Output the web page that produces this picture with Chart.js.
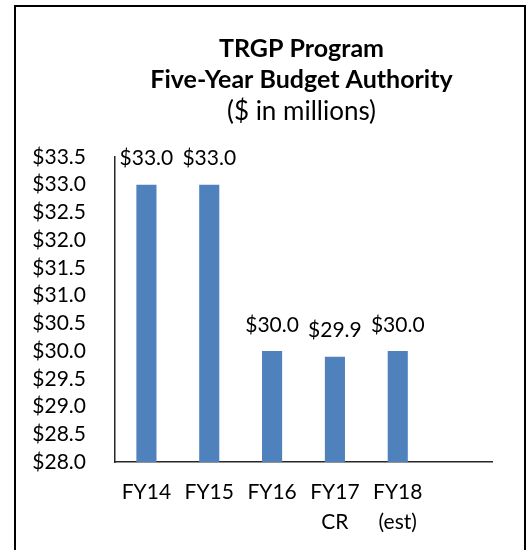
<!DOCTYPE html>
<html>
<head>
<meta charset="utf-8">
<script src="https://cdn.jsdelivr.net/npm/chart.js@4"></script>
<style>
  html, body { margin: 0; padding: 0; background: #fff; overflow: hidden; }
  #frame { position: absolute; left: 14px; top: 5px; width: 508px; height: 620px; border: 2px solid #000; }
  #wrap { position: absolute; left: 0; top: 0; width: 526px; height: 550px; }
</style>
</head>
<body>
<div id="frame"></div>
<div id="wrap"><canvas id="chart"></canvas></div>
<script>
const titleLines = ['TRGP Program', 'Five-Year Budget Authority'];
const subtitleText = '($ in millions)';
const years = ['FY14', 'FY15', 'FY16', ['FY17', 'CR'], ['FY18', '(est)'], ''];
const budget = [33.0, 33.0, 30.0, 29.9, 30.0, null];
const yTicks = { min: 28.0, max: 33.5, step: 0.5 };

const FONT = 'Lato, "Open Sans", sans-serif';

// title drawn over the middle of the plot area, like the original
const titlePlugin = {
    id: 'centerTitle',
    afterDraw(chart) {
        const ctx = chart.ctx;
        const cx = (chart.chartArea.left + chart.chartArea.right) / 2 - 2;
        ctx.save();
        ctx.fillStyle = '#000';
        ctx.textAlign = 'center';
        ctx.textBaseline = 'alphabetic';
        ctx.font = 'bold 25px ' + FONT;
        ctx.fillText(titleLines[0], cx, 57);
        ctx.fillText(titleLines[1], cx, 88);
        ctx.font = '26px ' + FONT;
        ctx.fillText(subtitleText, cx, 120);
        ctx.restore();
    }
};

const valueLabels = {
    id: 'valueLabels',
    afterDatasetsDraw(chart) {
        const ctx = chart.ctx;
        const meta = chart.getDatasetMeta(0);
        ctx.save();
        ctx.fillStyle = '#000';
        ctx.font = '21px ' + FONT;
        ctx.textAlign = 'center';
        ctx.textBaseline = 'middle';
        meta.data.forEach((bar, i) => {
            const v = budget[i];
            if (v === null) return;
            ctx.fillText('$' + v.toFixed(1), bar.x, bar.y - 26);
        });
        ctx.restore();
    }
};

document.addEventListener('DOMContentLoaded', () => {
    const data = {
        labels: years,
        datasets: [{
            label: 'Budget Authority',
            data: budget,
            backgroundColor: '#4F81BD',
            borderWidth: 0,
            barPercentage: 0.8,
            categoryPercentage: 0.4
        }]
    };

    const config = {
        type: 'bar',
        data: data,
        options: {
            responsive: true,
            maintainAspectRatio: false,
            animation: false,
            layout: {
                padding: { top: 157, left: 0, right: 34, bottom: 0 }
            },
            plugins: {
                legend: { display: false },
                title: { display: false },
                tooltip: { enabled: false }
            },
            scales: {
                x: {
                    grid: { display: false, drawTicks: false },
                    border: { display: true, color: '#262626', width: 1.5 },
                    ticks: {
                        color: '#000',
                        font: { family: FONT, size: 21, lineHeight: 1.43 },
                        padding: 15,
                        maxRotation: 0,
                        autoSkip: false
                    },
                    afterFit(scale) { scale.height = 88; }
                },
                y: {
                    min: yTicks.min,
                    max: yTicks.max,
                    grid: { display: false, drawTicks: false },
                    border: { display: true, color: '#262626', width: 1.5 },
                    ticks: {
                        stepSize: yTicks.step,
                        autoSkip: false,
                        color: '#000',
                        font: { family: FONT, size: 21, lineHeight: 1.1 },
                        padding: 29,
                        callback: (value) => '$' + Number(value).toFixed(1)
                    },
                    afterFit(scale) { scale.width = 115; }
                }
            }
        },
        plugins: [titlePlugin, valueLabels]
    };

    const ctx = document.getElementById('chart').getContext('2d');
    new Chart(ctx, config);
});
</script>
</body>
</html>
